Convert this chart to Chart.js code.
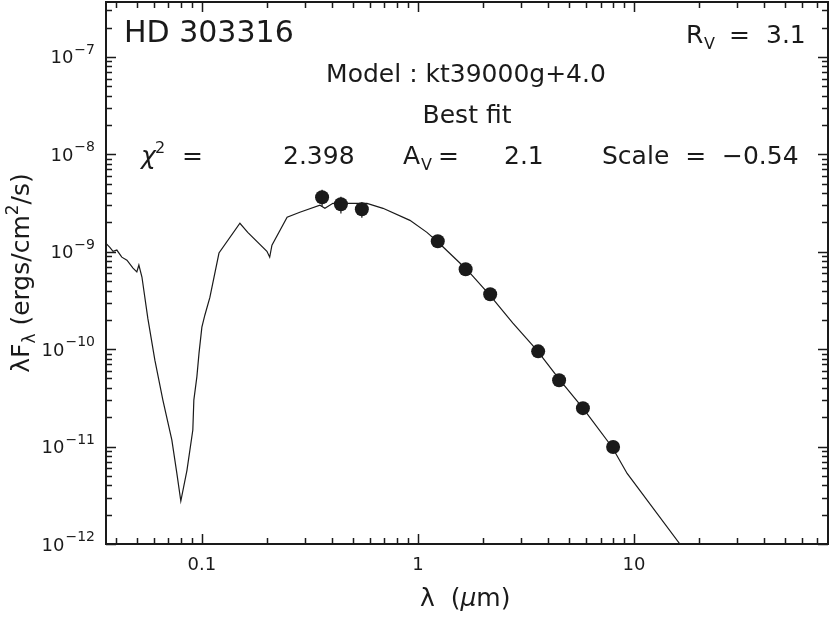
<!DOCTYPE html>
<html>
<head>
<meta charset="utf-8">
<script src="https://cdn.jsdelivr.net/npm/chart.js@4"></script>
<style>
  body { margin: 0; background: #fff; }
  canvas { display: block; }
</style>
</head>
<body>
<canvas id="sedChart" width="830" height="617"></canvas>
<script>
// model spectrum (kt39000g+4.0)
const modelWave = [0.0360, 0.0375, 0.0388, 0.0404, 0.0426, 0.0450, 0.0480, 0.0500, 0.0511, 0.0528,
  0.0562, 0.0606, 0.0660, 0.0726, 0.0766, 0.0799, 0.0853, 0.0908, 0.0918, 0.0948, 0.0970,
  0.100, 0.1032, 0.1089, 0.120, 0.150, 0.163, 0.200, 0.206, 0.211, 0.248, 0.284, 0.352,
  0.371, 0.404, 0.484, 0.581, 0.689, 0.918, 1.10, 1.24, 1.69, 2.15, 2.75, 3.55, 4.54,
  5.80, 7.91, 9.29, 16.3, 20.2];
const modelFlux = [1.22e-9, 1.11e-9, 1.01e-9, 1.04e-9, 8.8e-10, 8.2e-10, 6.8e-10, 6.2e-10, 7.3e-10, 5.5e-10,
  2.08e-10, 7.7e-11, 3.0e-11, 1.17e-11, 5.3e-12, 2.76e-12, 5.7e-12, 1.48e-11, 3.0e-11, 5.2e-11, 9.1e-11,
  1.68e-10, 2.23e-10, 3.4e-10, 9.7e-10, 1.96e-9, 1.58e-9, 1.01e-9, 8.8e-10, 1.17e-9, 2.26e-9, 2.54e-9, 3.0e-9,
  2.79e-9, 3.14e-9, 3.14e-9, 3.14e-9, 2.79e-9, 2.10e-9, 1.58e-9, 1.25e-9, 6.5e-10, 3.58e-10, 1.85e-10, 9.8e-11, 4.8e-11,
  2.48e-11, 9.9e-12, 5.3e-12, 1.0e-12, 5.3e-13];

// photometry (UBV, JHK, IRAC)
const obsWave = [0.36, 0.44, 0.55, 1.235, 1.662, 2.159, 3.6, 4.5, 5.8, 8.0];
const obsFlux = [3.62e-9, 3.07e-9, 2.73e-9, 1.28e-9, 6.6e-10, 3.66e-10, 9.5e-11, 4.8e-11, 2.48e-11, 9.9e-12];
const obsErr = [0.7e-9, 0.6e-9, 0.5e-9, 0, 0, 0, 0, 0, 0, 0];

const xDecades = [0.1, 1, 10];
const xTickLabels = ["0.1", "1", "10"];
const yExponents = [-12, -11, -10, -9, -8, -7];

const FONT = "'DejaVu Sans', sans-serif";
const INK = "#1a1a1a";

function txt(ctx, s, x, y, size, align, style) {
  ctx.font = (style || "") + " " + size + "px " + FONT;
  ctx.textAlign = align || "left";
  ctx.fillText(s, x, y);
  return ctx.measureText(s).width;
}

const sedDecor = {
  id: "sedDecor",
  afterDatasetsDraw(chart) {
    const ctx = chart.ctx;
    const { left, right, top, bottom } = chart.chartArea;
    const xs = chart.scales.x, ys = chart.scales.y;
    ctx.save();
    ctx.strokeStyle = INK;
    ctx.fillStyle = INK;

    // error bars
    ctx.lineWidth = 1.2;
    obsWave.forEach((w, i) => {
      if (!obsErr[i]) return;
      const px = xs.getPixelForValue(w);
      ctx.beginPath();
      ctx.moveTo(px, ys.getPixelForValue(obsFlux[i] + obsErr[i]));
      ctx.lineTo(px, ys.getPixelForValue(obsFlux[i] - obsErr[i]));
      ctx.stroke();
    });

    // frame
    ctx.lineWidth = 2;
    ctx.strokeRect(left, top, right - left, bottom - top);

    // inward ticks on all four sides
    ctx.lineWidth = 1.5;
    ctx.beginPath();
    for (let e = -2; e <= 2; e++) {
      for (let m = 1; m <= 9; m++) {
        const v = m * Math.pow(10, e);
        if (v < xs.min || v > xs.max) continue;
        const px = Math.round(xs.getPixelForValue(v)) + 0.5;
        const len = m === 1 ? 10 : 6;
        ctx.moveTo(px, bottom); ctx.lineTo(px, bottom - len);
        ctx.moveTo(px, top); ctx.lineTo(px, top + len);
      }
    }
    for (let e = -12; e <= -7; e++) {
      for (let m = 1; m <= 9; m++) {
        const v = m * Math.pow(10, e);
        if (v < ys.min * 0.999 || v > ys.max) continue;
        const py = Math.round(ys.getPixelForValue(v)) + 0.5;
        const len = m === 1 ? 10 : 6;
        ctx.moveTo(left, py); ctx.lineTo(left + len, py);
        ctx.moveTo(right, py); ctx.lineTo(right - len, py);
      }
    }
    ctx.stroke();

    // x tick labels
    ctx.textBaseline = "alphabetic";
    xDecades.forEach((v, i) => {
      txt(ctx, xTickLabels[i], xs.getPixelForValue(v), 570, 18, "center");
    });

    // y tick labels 10^n
    yExponents.forEach(e => {
      const py = ys.getPixelForValue(Math.pow(10, e));
      const w = txt(ctx, "\u2212" + Math.abs(e), 95, py - 3, 14, "right");
      txt(ctx, "10", 95 - w - 1, py + 6.5, 18, "right");
    });

    // axis titles
    let wx = 420;
    wx += txt(ctx, "\u03bb  (", wx, 606, 25, "left");
    wx += txt(ctx, "\u03bc", wx, 606, 25, "left", "italic");
    txt(ctx, "m)", wx, 606, 25, "left");

    ctx.save();
    ctx.translate(29, 273);
    ctx.rotate(-Math.PI / 2);
    const parts = [
      ["\u03bbF", 25, 0], ["\u03bb", 17, 6], [" (ergs/cm", 25, 0], ["2", 17, -11], ["/s)", 25, 0]
    ];
    let total = 0;
    parts.forEach(p => { ctx.font = p[1] + "px " + FONT; total += ctx.measureText(p[0]).width; });
    let yx = -total / 2;
    parts.forEach(p => { yx += txt(ctx, p[0], yx, p[2], p[1], "left"); });
    ctx.restore();

    // annotations
    txt(ctx, "HD 303316", 124, 42, 30, "left");
    txt(ctx, "R", 686, 43, 25, "left");
    txt(ctx, "V", 704, 49, 16, "left");
    txt(ctx, "=", 729, 43, 25, "left");
    txt(ctx, "3.1", 766, 43, 25, "left");
    txt(ctx, "Model : kt39000g+4.0", 466, 82, 25, "center");
    txt(ctx, "Best fit", 467, 123, 25, "center");
    txt(ctx, "\u03c7", 141, 164, 25, "left", "italic");
    txt(ctx, "2", 155, 153, 16, "left");
    txt(ctx, "=", 182, 164, 25, "left");
    txt(ctx, "2.398", 283, 164, 25, "left");
    txt(ctx, "A", 403, 164, 25, "left");
    txt(ctx, "V", 421, 170, 16, "left");
    txt(ctx, "=", 438, 164, 25, "left");
    txt(ctx, "2.1", 504, 164, 25, "left");
    txt(ctx, "Scale  =  \u22120.54", 602, 164, 25, "left");

    ctx.restore();
  }
};

new Chart(document.getElementById("sedChart").getContext("2d"), {
  type: "scatter",
  data: {
    datasets: [
      {
        label: "model",
        data: modelWave.map((w, i) => ({ x: w, y: modelFlux[i] })),
        showLine: true,
        borderColor: INK,
        borderWidth: 1.2,
        pointRadius: 0,
        tension: 0,
      },
      {
        label: "photometry",
        data: obsWave.map((w, i) => ({ x: w, y: obsFlux[i] })),
        backgroundColor: INK,
        borderColor: INK,
        pointRadius: 7,
        borderWidth: 0,
      },
    ],
  },
  options: {
    responsive: false,
    animation: false,
    events: [],
    layout: { autoPadding: false, padding: { top: 2, right: 2, left: 0, bottom: 0 } },
    plugins: { legend: { display: false }, tooltip: { enabled: false } },
    scales: {
      x: {
        type: "logarithmic",
        min: 0.036,
        max: 79,
        bounds: "data",
        grid: { display: false },
        border: { display: false },
        ticks: { display: false },
        afterFit: s => { s.height = 73; },
      },
      y: {
        type: "logarithmic",
        min: 1e-12,
        max: 3.66e-7,
        bounds: "data",
        grid: { display: false },
        border: { display: false },
        ticks: { display: false },
        afterFit: s => { s.width = 106; },
      },
    },
  },
  plugins: [sedDecor],
});
</script>
</body>
</html>
